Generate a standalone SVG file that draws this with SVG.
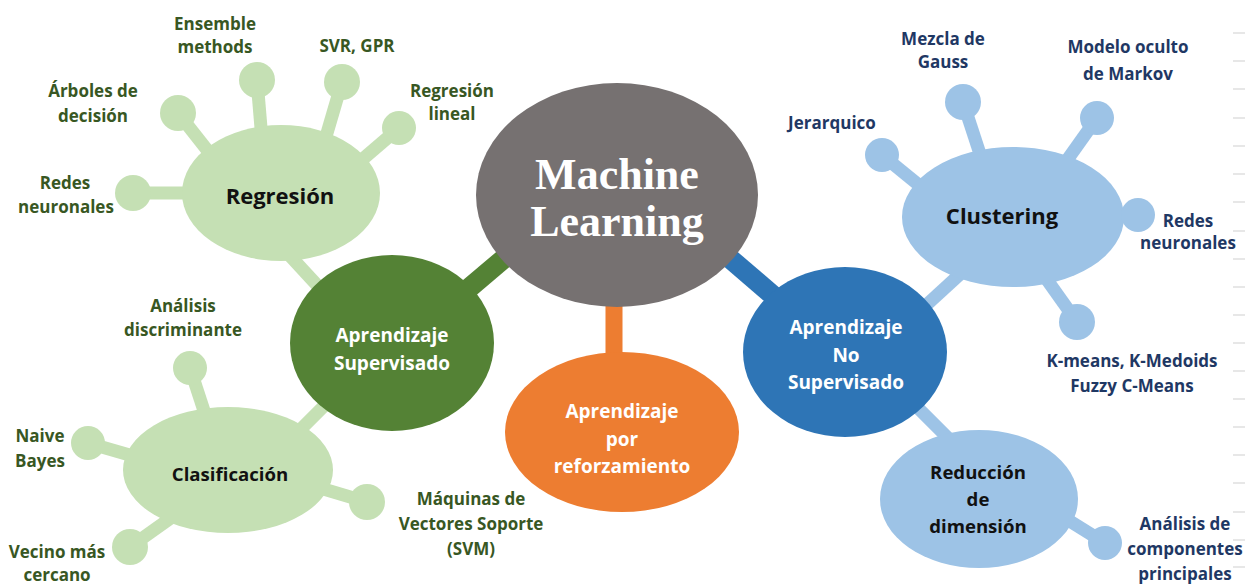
<svg xmlns="http://www.w3.org/2000/svg" width="1245" height="584" viewBox="0 0 1245 584">
  <style>
    .lbl { font-family: "Open Sans", Lato, "Liberation Sans", sans-serif; font-weight: 700; text-anchor: middle; }
    .leafG { font-size: 17px; fill: #385723; }
    .leafB { font-size: 17px; fill: #1f3864; }
    .head { font-size: 22px; fill: #111111; }
    .sub { font-size: 18.6px; }
    .white { font-size: 19px; fill: #ffffff; }
    .ml { font-family: "Liberation Serif", "Times New Roman", serif; font-weight: 700; font-size: 44px; fill: #ffffff; text-anchor: middle; }
    .lg { fill: #c5e0b4; }
    .lb { fill: #9dc3e6; }
    .sg { stroke: #c5e0b4; stroke-width: 13; }
    .sb { stroke: #9dc3e6; stroke-width: 13; }
    .tick { stroke: #cfcfcf; stroke-width: 1; }
  </style>

  <!-- edge ruler ticks -->
  <g id="ticks">
    <line class="tick" x1="1233" y1="33" x2="1245" y2="33"/>
    <line class="tick" x1="1233" y1="61" x2="1245" y2="61"/>
    <line class="tick" x1="1233" y1="89" x2="1245" y2="89"/>
    <line class="tick" x1="1233" y1="118" x2="1245" y2="118"/>
    <line class="tick" x1="1233" y1="146" x2="1245" y2="146"/>
    <line class="tick" x1="1233" y1="174" x2="1245" y2="174"/>
    <line class="tick" x1="1233" y1="202" x2="1245" y2="202"/>
    <line class="tick" x1="1233" y1="231" x2="1245" y2="231"/>
    <line class="tick" x1="1233" y1="259" x2="1245" y2="259"/>
    <line class="tick" x1="1233" y1="287" x2="1245" y2="287"/>
    <line class="tick" x1="1233" y1="315" x2="1245" y2="315"/>
    <line class="tick" x1="1233" y1="343" x2="1245" y2="343"/>
    <line class="tick" x1="1233" y1="371" x2="1245" y2="371"/>
    <line class="tick" x1="1233" y1="399" x2="1245" y2="399"/>
    <line class="tick" x1="1233" y1="427" x2="1245" y2="427"/>
    <line class="tick" x1="1233" y1="455" x2="1245" y2="455"/>
    <line class="tick" x1="1233" y1="483" x2="1245" y2="483"/>
    <line class="tick" x1="1233" y1="512" x2="1245" y2="512"/>
    <line class="tick" x1="1233" y1="540" x2="1245" y2="540"/>
    <line class="tick" x1="1233" y1="567" x2="1245" y2="567"/>
  </g>

  <!-- connectors (drawn beneath the nodes) -->
  <g id="connectors">
    <!-- main branches -->
    <line x1="455" y1="300" x2="520" y2="245" stroke="#548235" stroke-width="20"/>
    <line x1="614" y1="290" x2="614" y2="370" stroke="#ed7d31" stroke-width="17"/>
    <line x1="720" y1="250" x2="790" y2="310" stroke="#2e75b6" stroke-width="20"/>
    <!-- supervised sub-branches -->
    <line class="sg" x1="280" y1="245" x2="340" y2="310" stroke-width="16"/>
    <line class="sg" x1="290" y1="440" x2="330" y2="400" stroke-width="16"/>
    <!-- unsupervised sub-branches -->
    <line class="sb" x1="970" y1="265" x2="910" y2="320" stroke-width="16"/>
    <line class="sb" x1="905" y1="395" x2="960" y2="450" stroke-width="16"/>
    <!-- regression leaves -->
    <line class="sg" x1="257" y1="80" x2="262" y2="140"/>
    <line class="sg" x1="342" y1="82" x2="325" y2="140"/>
    <line class="sg" x1="399" y1="128" x2="350" y2="170"/>
    <line class="sg" x1="178" y1="113" x2="215" y2="160"/>
    <line class="sg" x1="133" y1="193" x2="195" y2="193"/>
    <!-- classification leaves -->
    <line class="sg" x1="190" y1="368" x2="207" y2="420"/>
    <line class="sg" x1="88" y1="443" x2="140" y2="458"/>
    <line class="sg" x1="130" y1="547" x2="175" y2="515"/>
    <line class="sg" x1="367" y1="502" x2="310" y2="485"/>
    <!-- clustering leaves -->
    <line class="sb" x1="882" y1="155" x2="925" y2="190"/>
    <line class="sb" x1="963" y1="102" x2="982" y2="160"/>
    <line class="sb" x1="1097" y1="118" x2="1060" y2="170"/>
    <line class="sb" x1="1138" y1="215" x2="1110" y2="215"/>
    <line class="sb" x1="1077" y1="322" x2="1040" y2="270"/>
    <!-- dimension reduction leaf -->
    <line class="sb" x1="1105" y1="543" x2="1060" y2="515"/>
  </g>

  <!-- central node -->
  <g id="machine-learning">
    <ellipse cx="617" cy="195" rx="141" ry="112" fill="#767171"/>
    <text class="ml" x="617" y="189">Machine</text>
    <text class="ml" x="617" y="236">Learning</text>
  </g>

  <!-- supervised learning -->
  <g id="supervisado">
    <ellipse cx="392" cy="343" rx="102" ry="88" fill="#548235"/>
    <text class="lbl white" x="392" y="342">Aprendizaje</text>
    <text class="lbl white" x="392" y="370">Supervisado</text>
  </g>

  <g id="regresion">
    <ellipse class="lg" cx="281" cy="193" rx="99" ry="68"/>
    <text class="lbl head" x="280" y="204">Regresión</text>
  </g>
  <g id="ensemble">
    <circle class="lg" cx="257" cy="80" r="18"/>
    <text class="lbl leafG" x="215" y="30">Ensemble</text>
    <text class="lbl leafG" x="215" y="53">methods</text>
  </g>
  <g id="svr-gpr">
    <circle class="lg" cx="342" cy="82" r="18"/>
    <text class="lbl leafG" x="357" y="52">SVR, GPR</text>
  </g>
  <g id="regresion-lineal">
    <circle class="lg" cx="399" cy="128" r="17"/>
    <text class="lbl leafG" x="452" y="97">Regresión</text>
    <text class="lbl leafG" x="452" y="120">lineal</text>
  </g>
  <g id="arboles">
    <circle class="lg" cx="178" cy="113" r="18"/>
    <text class="lbl leafG" x="93" y="97">Árboles de</text>
    <text class="lbl leafG" x="93" y="122">decisión</text>
  </g>
  <g id="redes-reg">
    <circle class="lg" cx="133" cy="193" r="18"/>
    <text class="lbl leafG" x="65" y="189">Redes</text>
    <text class="lbl leafG" x="66" y="213">neuronales</text>
  </g>

  <g id="clasificacion">
    <ellipse class="lg" cx="228" cy="470" rx="105" ry="63"/>
    <text class="lbl head sub" x="230" y="481">Clasificación</text>
  </g>
  <g id="discriminante">
    <circle class="lg" cx="190" cy="368" r="17"/>
    <text class="lbl leafG" x="183" y="312">Análisis</text>
    <text class="lbl leafG" x="183" y="336">discriminante</text>
  </g>
  <g id="naive-bayes">
    <circle class="lg" cx="88" cy="443" r="17"/>
    <text class="lbl leafG" x="40" y="442">Naive</text>
    <text class="lbl leafG" x="40" y="467">Bayes</text>
  </g>
  <g id="vecino">
    <circle class="lg" cx="130" cy="547" r="18"/>
    <text class="lbl leafG" x="57" y="558">Vecino más</text>
    <text class="lbl leafG" x="57" y="581">cercano</text>
  </g>
  <g id="svm">
    <circle class="lg" cx="367" cy="502" r="18"/>
    <text class="lbl leafG" x="471" y="505">Máquinas de</text>
    <text class="lbl leafG" x="471" y="530">Vectores Soporte</text>
    <text class="lbl leafG" x="471" y="555">(SVM)</text>
  </g>

  <!-- reinforcement learning -->
  <g id="refuerzo">
    <ellipse cx="622" cy="432" rx="117" ry="80" fill="#ed7d31"/>
    <text class="lbl white" x="622" y="418">Aprendizaje</text>
    <text class="lbl white" x="622" y="446">por</text>
    <text class="lbl white" x="622" y="473">reforzamiento</text>
  </g>

  <!-- unsupervised learning -->
  <g id="no-supervisado">
    <ellipse cx="845" cy="352" rx="102" ry="85" fill="#2e75b6"/>
    <text class="lbl white" x="846" y="334">Aprendizaje</text>
    <text class="lbl white" x="846" y="362">No</text>
    <text class="lbl white" x="846" y="389">Supervisado</text>
  </g>

  <g id="clustering">
    <ellipse class="lb" cx="1013" cy="217" rx="111" ry="70"/>
    <text class="lbl head" x="1002" y="224" font-size="21.5">Clustering</text>
  </g>
  <g id="jerarquico">
    <circle class="lb" cx="882" cy="155" r="17"/>
    <text class="lbl leafB" x="832" y="129">Jerarquico</text>
  </g>
  <g id="mezcla-gauss">
    <circle class="lb" cx="963" cy="102" r="18"/>
    <text class="lbl leafB" x="943" y="45">Mezcla de</text>
    <text class="lbl leafB" x="943" y="68">Gauss</text>
  </g>
  <g id="markov">
    <circle class="lb" cx="1097" cy="118" r="17"/>
    <text class="lbl leafB" x="1128" y="53">Modelo oculto</text>
    <text class="lbl leafB" x="1128" y="80">de Markov</text>
  </g>
  <g id="redes-clu">
    <circle class="lb" cx="1138" cy="215" r="17"/>
    <text class="lbl leafB" x="1188" y="227">Redes</text>
    <text class="lbl leafB" x="1188" y="249">neuronales</text>
  </g>
  <g id="kmeans">
    <circle class="lb" cx="1077" cy="322" r="18"/>
    <text class="lbl leafB" x="1132" y="367">K-means, K-Medoids</text>
    <text class="lbl leafB" x="1132" y="392">Fuzzy C-Means</text>
  </g>

  <g id="reduccion">
    <ellipse class="lb" cx="979" cy="499" rx="99" ry="69"/>
    <text class="lbl head sub" x="978" y="479">Reducción</text>
    <text class="lbl head sub" x="978" y="506">de</text>
    <text class="lbl head sub" x="978" y="533">dimensión</text>
  </g>
  <g id="pca">
    <circle class="lb" cx="1105" cy="543" r="17"/>
    <text class="lbl leafB" x="1185" y="530">Análisis de</text>
    <text class="lbl leafB" x="1185" y="555">componentes</text>
    <text class="lbl leafB" x="1185" y="580">principales</text>
  </g>
</svg>
